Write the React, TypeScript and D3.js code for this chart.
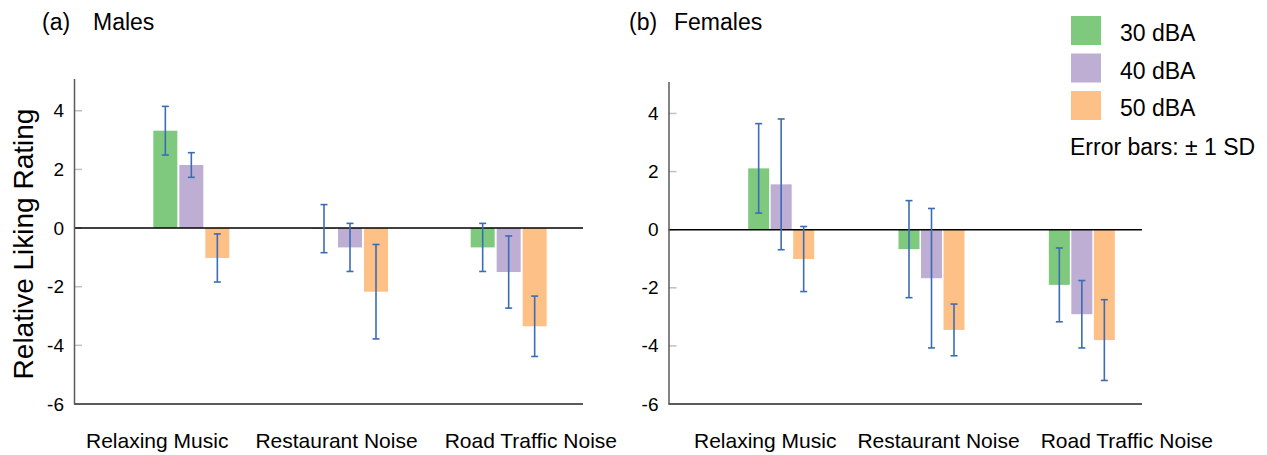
import React, { useEffect, useRef } from "react";
import * as d3 from "d3";

const categories = ["Relaxing Music", "Restaurant Noise", "Road Traffic Noise"];
const levels = ["30 dBA", "40 dBA", "50 dBA"];
const levelColors = ["#7fc97f", "#beaed4", "#fdc086"];
const yTicks = [4, 2, 0, -2, -4, -6];

// rows = level (30/40/50 dBA), columns = category
const maleMeans = [
  [3.32, -0.02, -0.66],
  [2.15, -0.66, -1.5],
  [-1.02, -2.17, -3.35],
];
const maleSDs = [
  [0.83, 0.82, 0.82],
  [0.42, 0.82, 1.23],
  [0.82, 1.61, 1.03],
];
const femaleMeans = [
  [2.11, -0.67, -1.9],
  [1.56, -1.67, -2.91],
  [-1.01, -3.45, -3.8],
];
const femaleSDs = [
  [1.54, 1.67, 1.27],
  [2.25, 2.4, 1.16],
  [1.12, 0.89, 1.39],
];

const FONT = "'Liberation Sans', Arial, Helvetica, sans-serif";
const ERR = "#3a6db5";

interface Panel {
  tag: string;
  title: string;
  means: number[][];
  sds: number[][];
  left: number;
  right: number;
  top: number;
  bottom: number;
  groupRange: [number, number];
  labelStart: number;
  labelGap: number;
  half: number;
  gap: number;
  tagX: number;
  titleX: number;
}

const panels: Panel[] = [
  {
    tag: "(a)",
    title: "Males",
    means: maleMeans,
    sds: maleSDs,
    left: 74,
    right: 583,
    top: 78.5,
    bottom: 404,
    groupRange: [112, 588],
    labelStart: 86,
    labelGap: 27,
    half: 38,
    gap: 2 / 26,
    tagX: 42,
    titleX: 93,
  },
  {
    tag: "(b)",
    title: "Females",
    means: femaleMeans,
    sds: femaleSDs,
    left: 668.5,
    right: 1142,
    top: 81.5,
    bottom: 404,
    groupRange: [706, 1157],
    labelStart: 694,
    labelGap: 21,
    half: 33,
    gap: 1.5 / 22.5,
    tagX: 629,
    titleX: 674,
  },
];

function drawPanel(svg: d3.Selection<SVGSVGElement, unknown, null, undefined>, p: Panel) {
  const y = d3.scaleLinear().domain([-6, 5.1]).range([p.bottom, p.top]);
  const x0 = d3.scaleBand().domain(categories).range(p.groupRange);
  const x1 = d3
    .scaleBand()
    .domain(levels)
    .range([-p.half, p.half])
    .paddingInner(p.gap);

  const rows = categories.flatMap((c, ci) =>
    levels.map((l, li) => ({
      c,
      l,
      li,
      mean: p.means[li][ci],
      sd: p.sds[li][ci],
    })),
  );
  const cx = (d: { c: string; l: string }) =>
    x0(d.c)! + x0.bandwidth() / 2 + x1(d.l)! + x1.bandwidth() / 2;

  const g = svg.append("g");

  // small grey tick marks inside the axis
  g.selectAll("line.tk")
    .data(yTicks.filter((t) => t !== -6))
    .join("line")
    .attr("class", "tk")
    .attr("x1", p.left)
    .attr("x2", p.left + 8)
    .attr("y1", (d) => y(d))
    .attr("y2", (d) => y(d))
    .attr("stroke", "#c0c0c0")
    .attr("stroke-width", 1.5);

  g.selectAll("rect.bar")
    .data(rows)
    .join("rect")
    .attr("class", "bar")
    .attr("x", (d) => x0(d.c)! + x0.bandwidth() / 2 + x1(d.l)!)
    .attr("width", x1.bandwidth())
    .attr("y", (d) => y(Math.max(0, d.mean)))
    .attr("height", (d) => Math.abs(y(d.mean) - y(0)))
    .attr("fill", (d) => levelColors[d.li]);

  // zero line
  g.append("line")
    .attr("x1", p.left)
    .attr("x2", p.right)
    .attr("y1", y(0))
    .attr("y2", y(0))
    .attr("stroke", "#000")
    .attr("stroke-width", 1.5);

  // bottom line
  g.append("line")
    .attr("x1", p.left)
    .attr("x2", p.right)
    .attr("y1", p.bottom)
    .attr("y2", p.bottom)
    .attr("stroke", "#5a5a5a")
    .attr("stroke-width", 2);

  const yAxis = g
    .append("g")
    .attr("transform", `translate(${p.left},0)`)
    .call(
      d3
        .axisLeft(y)
        .tickValues(yTicks)
        .tickSize(0)
        .tickPadding(10)
        .tickFormat((d) => String(d)),
    );
  yAxis.select(".domain").attr("stroke", "#5a5a5a").attr("stroke-width", 1.5);
  yAxis
    .selectAll("text")
    .attr("font-family", FONT)
    .attr("font-size", 19)
    .attr("fill", "#000");

  // error bars
  const eb = g.selectAll("g.err").data(rows).join("g").attr("class", "err");
  eb.append("line")
    .attr("x1", cx)
    .attr("x2", cx)
    .attr("y1", (d) => y(d.mean + d.sd))
    .attr("y2", (d) => y(d.mean - d.sd))
    .attr("stroke", ERR)
    .attr("stroke-width", 1.6);
  [1, -1].forEach((s) => {
    eb.append("line")
      .attr("x1", (d) => cx(d) - 3.5)
      .attr("x2", (d) => cx(d) + 3.5)
      .attr("y1", (d) => y(d.mean + s * d.sd))
      .attr("y2", (d) => y(d.mean + s * d.sd))
      .attr("stroke", ERR)
      .attr("stroke-width", 1.6);
  });

  // category labels, set one after another like a line of text
  const labels = g
    .selectAll("text.cat")
    .data(categories)
    .join("text")
    .attr("class", "cat")
    .attr("y", 448)
    .attr("font-family", FONT)
    .attr("font-size", 21)
    .text((d) => d);
  let lx = p.labelStart;
  labels.each(function () {
    const t = this as SVGTextElement;
    t.setAttribute("x", String(lx));
    lx += t.getComputedTextLength() + p.labelGap;
  });

  g.append("text")
    .attr("x", p.tagX)
    .attr("y", 30)
    .attr("font-family", FONT)
    .attr("font-size", 23)
    .text(p.tag);
  g.append("text")
    .attr("x", p.titleX)
    .attr("y", 30)
    .attr("font-family", FONT)
    .attr("font-size", 23)
    .text(p.title);
}

export default function App() {
  const svgRef = useRef<SVGSVGElement>(null);

  useEffect(() => {
    if (!svgRef.current) return;
    const svg = d3.select(svgRef.current);
    svg.selectAll("*").remove();

    panels.forEach((p) => drawPanel(svg, p));

    svg
      .append("text")
      .attr("transform", "translate(33,244) rotate(-90)")
      .attr("text-anchor", "middle")
      .attr("font-family", FONT)
      .attr("font-size", 28)
      .text("Relative Liking Rating");

    const legend = svg
      .selectAll("g.leg")
      .data(levels)
      .join("g")
      .attr("class", "leg")
      .attr("transform", (_, i) => `translate(1071,${16 + i * 37.5})`);
    legend
      .append("rect")
      .attr("width", 30)
      .attr("height", 29)
      .attr("fill", (_, i) => levelColors[i]);
    legend
      .append("text")
      .attr("x", 49)
      .attr("y", 25)
      .attr("font-family", FONT)
      .attr("font-size", 23)
      .text((d) => d);

    svg
      .append("text")
      .attr("x", 1070)
      .attr("y", 155)
      .attr("font-family", FONT)
      .attr("font-size", 23)
      .text("Error bars: \u00b1 1 SD");
  }, []);

  return (
    <svg
      ref={svgRef}
      width={1267}
      height={455}
      style={{ position: "absolute", left: 0, top: 0, background: "#fff" }}
    />
  );
}
